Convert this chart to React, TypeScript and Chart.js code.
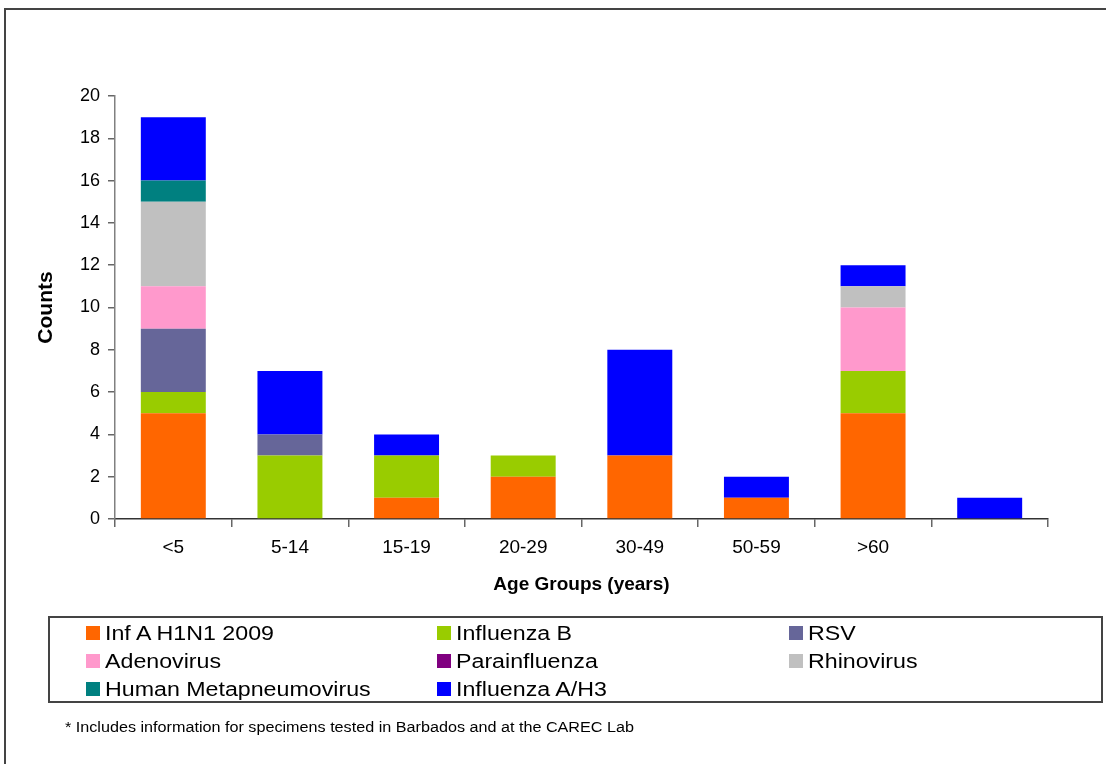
import React, { useEffect, useRef } from "react";
import { Chart, registerables } from "chart.js";

Chart.register(...registerables);

const categories = ["<5", "5-14", "15-19", "20-29", "30-49", "50-59", ">60", ""];
const seriesNames = [
  "Inf A H1N1 2009",
  "Influenza B",
  "RSV",
  "Adenovirus",
  "Parainfluenza",
  "Rhinovirus",
  "Human Metapneumovirus",
  "Influenza A/H3",
];
const infAH1N1 = [5, 0, 1, 2, 3, 1, 5, 0];
const influenzaB = [1, 3, 2, 1, 0, 0, 2, 0];
const rsv = [3, 1, 0, 0, 0, 0, 0, 0];
const adenovirus = [2, 0, 0, 0, 0, 0, 3, 0];
const parainfluenza = [0, 0, 0, 0, 0, 0, 0, 0];
const rhinovirus = [4, 0, 0, 0, 0, 0, 1, 0];
const metapneumovirus = [1, 0, 0, 0, 0, 0, 0, 0];
const influenzaAH3 = [3, 3, 1, 0, 5, 1, 1, 1];
const seriesColors = ["#FF6600", "#99CC00", "#666699", "#FF99CC", "#800080", "#C0C0C0", "#008080", "#0000FF"];
const yTicks = [0, 2, 4, 6, 8, 10, 12, 14, 16, 18, 20];

const FONT = "'Liberation Sans', Arial, sans-serif";

export default function App() {
  const ref = useRef<HTMLCanvasElement | null>(null);

  useEffect(() => {
    if (!ref.current) return;
    const values = [infAH1N1, influenzaB, rsv, adenovirus, parainfluenza, rhinovirus, metapneumovirus, influenzaAH3];
    const chart = new Chart(ref.current, {
      type: "bar",
      data: {
        labels: categories,
        datasets: seriesNames.map((name, i) => ({
          label: name,
          data: values[i],
          backgroundColor: seriesColors[i],
          borderWidth: 0,
          barPercentage: 0.557,
          categoryPercentage: 1,
        })),
      },
      options: {
        responsive: false,
        animation: false,
        layout: { padding: { left: 0, top: 96, right: 58, bottom: 165 } },
        plugins: { legend: { display: false }, tooltip: { enabled: false } },
        scales: {
          x: {
            stacked: true,
            grid: { display: true, drawOnChartArea: false, offset: true, tickLength: 8, color: "#666", lineWidth: 1.5 },
            border: { color: "#333", width: 1.5 },
            ticks: { color: "#000", font: { family: FONT, size: 19 }, padding: 9, maxRotation: 0 },
            title: {
              display: true,
              text: "Age Groups (years)",
              color: "#000",
              font: { family: FONT, size: 19, weight: "bold" },
              padding: { top: 0, bottom: 3 },
            },
            afterFit: (s: any) => {
              s.height = 80;
            },
          },
          y: {
            stacked: true,
            min: 0,
            max: 20,
            grid: { display: true, drawOnChartArea: false, tickLength: 7, color: "#666", lineWidth: 1.5 },
            border: { color: "#808080", width: 1.5 },
            afterBuildTicks: (s: any) => {
              s.ticks = yTicks.map((v) => ({ value: v }));
            },
            ticks: { color: "#000", font: { family: FONT, size: 18 }, padding: 8 },
            title: {
              display: true,
              text: "Counts",
              color: "#000",
              font: { family: FONT, size: 21, weight: "bold" },
              padding: { top: 34, bottom: 0 },
            },
            afterFit: (s: any) => {
              s.width = 115;
            },
          },
        },
      },
    });
    return () => chart.destroy();
  }, []);

  const swatchX = [86, 437, 789];
  const rowY = [633, 661, 689];

  return (
    <div
      style={{
        position: "absolute",
        left: 0,
        top: 0,
        width: 1106,
        height: 764,
        overflow: "hidden",
        background: "#fff",
        fontFamily: FONT,
      }}
    >
      <div
        style={{
          position: "absolute",
          left: 4,
          top: 8,
          width: 1200,
          height: 900,
          border: "2px solid #444",
          boxSizing: "border-box",
        }}
      />
      <canvas ref={ref} width={1106} height={764} style={{ position: "absolute", left: 0, top: 0 }} />
      <div
        style={{
          position: "absolute",
          left: 48,
          top: 616,
          width: 1055,
          height: 87,
          border: "2px solid #444",
          boxSizing: "border-box",
        }}
      />
      {seriesNames.map((name, i) => {
        const col = i % 3;
        const row = Math.floor(i / 3);
        return (
          <div
            key={name}
            style={{
              position: "absolute",
              left: swatchX[col],
              top: rowY[row] - 12,
              height: 24,
              display: "flex",
              alignItems: "center",
              whiteSpace: "nowrap",
              fontSize: 20,
              color: "#000",
            }}
          >
            <span style={{ display: "inline-block", width: 14, height: 14, background: seriesColors[i], marginRight: 5 }} />
            <span style={{ display: "inline-block", transform: "scaleX(1.16)", transformOrigin: "left center" }}>{name}</span>
          </div>
        );
      })}
      <div
        style={{
          position: "absolute",
          left: 65,
          top: 719,
          fontSize: 14,
          color: "#000",
          whiteSpace: "nowrap",
          transform: "scaleX(1.155)",
          transformOrigin: "left center",
        }}
      >
        * Includes information for specimens tested in Barbados and at the CAREC Lab
      </div>
    </div>
  );
}
